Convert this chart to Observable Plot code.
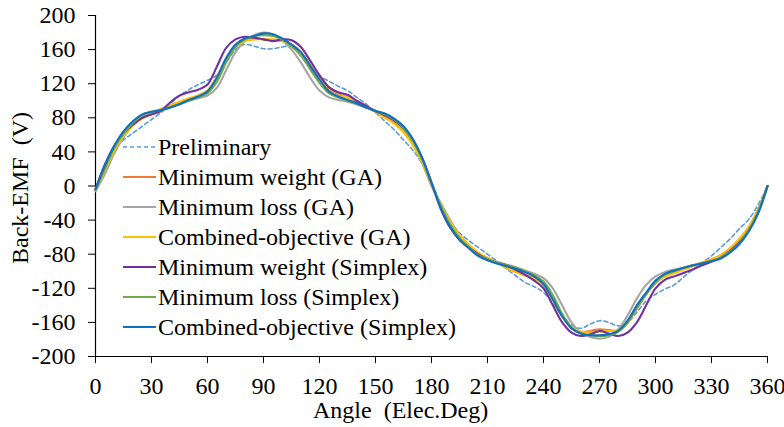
<!DOCTYPE html>
<html><head><meta charset="utf-8">
<script src="https://cdn.jsdelivr.net/npm/d3@7"></script>
<script src="https://cdn.jsdelivr.net/npm/@observablehq/plot@0.6"></script>
<style>
body{margin:0;background:#fff;}
#wrap{position:relative;width:784px;height:427px;color:#000;overflow:hidden;}
#wrap, #wrap *{font-family:'Liberation Serif','Times New Roman',serif;}
#legend{position:absolute;left:123px;top:132px;font-size:24px;line-height:30px;}
.row{display:flex;align-items:center;height:30px;white-space:nowrap}
.row svg{margin-right:2px;flex:none}
#ylab{position:absolute;left:20px;top:188px;transform:translate(-50%,-50%) rotate(-90deg);font-size:24px;white-space:pre}
#xlab{position:absolute;left:313px;top:410px;transform:translate(0,-50%);font-size:24px;white-space:pre}
</style></head>
<body><div id="wrap"></div>
<script>
const angles = [0,5,10,15,20,25,30,35,40,45,50,55,60,65,70,75,80,85,90,95,100,105,110,115,120,125,130,135,140,145,150,155,160,165,170,175,180,
185,190,195,200,205,210,215,220,225,230,235,240,245,250,255,260,265,270,275,280,285,290,295,300,305,310,315,320,325,330,335,340,345,350,355,360];

const seriesNames = ["Preliminary","Minimum weight (GA)","Minimum loss (GA)","Combined-objective (GA)","Minimum weight (Simplex)","Minimum loss (Simplex)","Combined-objective (Simplex)"];
const seriesColors = ["#5B9BD5","#ED7D31","#A5A5A5","#FFC000","#7030A0","#70AD47","#0F6FC0"];

const preliminary = [-4,22,44,54,62,70,78,86,96,106,113,119,124,130,145,160,166,164,161,161,163,164,156,140,129,123,117,112,104,96,86,76,66,54,42,26,4,
-22,-42,-55,-64,-72,-80,-88,-97,-105,-113,-118,-125,-138,-152,-163,-167,-162,-158,-160,-164,-160,-148,-135,-127,-121,-116,-107,-98,-90,-82,-72,-62,-50,-39,-22,0];
const minWeightGA = [-5,19,42,60,72,80,85,89,94,98,102,106,112,128,149,164,171,173,172,171,170,166,157,142,126,114,108,104,99,93,87,81,74,64,49,29,2,
-23,-43,-59,-70,-79,-85,-90,-95,-100,-104,-108,-116,-133,-152,-166,-171,-170,-168,-169,-170,-161,-144,-127,-114,-106,-102,-98,-94,-90,-86,-81,-73,-62,-48,-28,0];
const minLossGA = [-6,14,38,57,71,80,86,90,93,96,100,103,106,115,136,157,170,177,180,178,171,160,145,127,112,104,101,99,96,92,88,84,77,66,50,27,0,
-20,-40,-57,-69,-79,-85,-89,-92,-95,-99,-103,-108,-120,-140,-160,-172,-177,-179,-177,-168,-152,-132,-116,-106,-101,-98,-96,-93,-90,-87,-83,-76,-65,-49,-27,0];
const combinedGA = [-5,18,41,59,71,79,85,90,95,99,103,106,112,127,148,163,170,172,172,172,170,165,156,141,126,115,109,104,99,94,87,80,73,63,48,28,2,
-22,-42,-58,-69,-78,-84,-90,-96,-101,-105,-109,-117,-134,-153,-166,-171,-172,-171,-170,-169,-160,-143,-126,-113,-106,-102,-98,-94,-90,-86,-81,-73,-62,-48,-28,0];
const minWeightSimplex = [-4,25,47,62,72,80,84,88,98,106,110,113,119,140,162,172,175,174,172,170,172,171,163,147,130,116,110,107,100,94,88,83,77,68,54,33,4,
-27,-49,-63,-72,-80,-86,-90,-93,-98,-104,-111,-120,-140,-160,-172,-176,-174,-170,-173,-176,-172,-160,-140,-120,-110,-106,-102,-98,-93,-89,-84,-76,-66,-52,-31,0];
const minLossSimplex = [-5,20,44,61,74,83,87,89,92,96,100,104,109,122,145,163,172,176,177,176,172,164,153,137,121,109,104,100,96,92,88,84,78,68,53,31,3,
-23,-45,-61,-72,-81,-86,-90,-93,-96,-100,-105,-112,-128,-150,-166,-173,-175,-176,-175,-171,-160,-143,-127,-113,-104,-100,-96,-93,-90,-88,-84,-77,-67,-52,-30,0];
const combinedSimplex = [-4,24,47,64,76,84,87,89,92,96,101,105,111,127,150,166,173,176,179,178,173,166,157,141,125,111,105,101,97,92,88,85,79,70,55,33,4,
-26,-48,-63,-73,-82,-87,-91,-94,-97,-101,-106,-115,-133,-153,-167,-173,-175,-175,-174,-170,-158,-140,-125,-111,-103,-99,-96,-93,-91,-88,-85,-78,-68,-53,-32,0];

const xTicks = [0,30,60,90,120,150,180,210,240,270,300,330,360];
const yTicks = [-200,-160,-120,-80,-40,0,40,80,120,160,200];
const xTitle = "Angle  (Elec.Deg)";
const yTitle = "Back-EMF  (V)";

const allValues = [preliminary,minWeightGA,minLossGA,combinedGA,minWeightSimplex,minLossSimplex,combinedSimplex];
const rows = [];
seriesNames.forEach((s,i)=>allValues[i].forEach((v,j)=>rows.push({angle:angles[j],value:v,series:s})));

const fontStack = "'Liberation Serif','Times New Roman',serif";
const marks = [
  Plot.axisX({ticks:xTicks,tickSize:7,tickPadding:13,tickFormat:d=>String(d),label:null,fontSize:24}),
  Plot.axisY({ticks:yTicks,tickSize:7,tickPadding:13,tickFormat:d=>String(d),label:null,fontSize:24}),
  Plot.ruleY([-200],{stroke:"#000",strokeWidth:1.2}),
  Plot.ruleX([0],{stroke:"#000",strokeWidth:1.2}),
  ...seriesNames.map((s,i)=>Plot.line(rows.filter(r=>r.series===s),{
    x:"angle",y:"value",stroke:seriesColors[i],
    strokeWidth:i===0?1.6:2.1,
    strokeDasharray:i===0?"4,3":null,
    curve:"catmull-rom"}))
];
const chart = Plot.plot({
  width:784,height:427,marginLeft:95,marginRight:17,marginTop:15,marginBottom:71,
  x:{domain:[0,360]},y:{domain:[-200,200]},
  style:{fontFamily:fontStack,fontSize:"24px",color:"#000",background:"#fff",overflow:"visible"},
  marks
});
const wrap = document.getElementById("wrap");
wrap.appendChild(chart);

const yl = document.createElement("div"); yl.id="ylab"; yl.textContent=yTitle; wrap.appendChild(yl);
const xl = document.createElement("div"); xl.id="xlab"; xl.textContent=xTitle; wrap.appendChild(xl);

const lg = document.createElement("div"); lg.id="legend";
seriesNames.forEach((s,i)=>{
  const r=document.createElement("div"); r.className="row";
  const dash = i===0?' stroke-dasharray="4,3"':'';
  r.innerHTML=`<svg width="33" height="4"><line x1="0" x2="33" y1="2" y2="2" stroke="${seriesColors[i]}" stroke-width="${i===0?1.6:2}"${dash}/></svg><span>${s}</span>`;
  lg.appendChild(r);
});
wrap.appendChild(lg);
</script>
</body></html>
